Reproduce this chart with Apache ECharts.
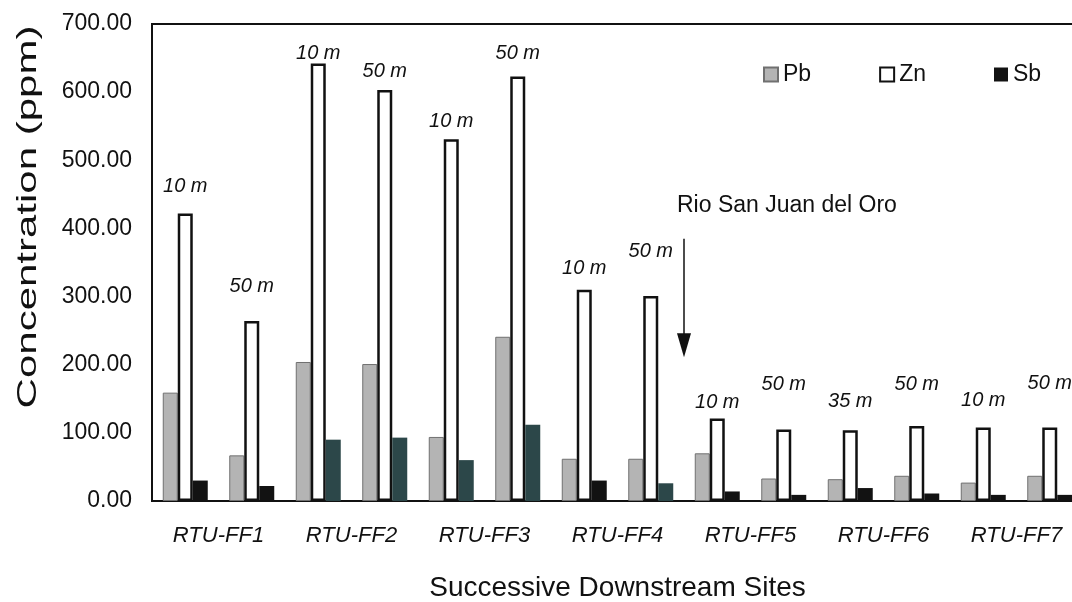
<!DOCTYPE html>
<html><head><meta charset="utf-8">
<script src="https://cdn.jsdelivr.net/npm/echarts@6/dist/echarts.min.js"></script>
<style>html,body{margin:0;padding:0;background:#fff}#c{width:1072px;height:602px}</style>
</head><body><div id="c"></div>
<script>
// ---- data ----
const sites = ['RTU-FF1','RTU-FF2','RTU-FF3','RTU-FF4','RTU-FF5','RTU-FF6','RTU-FF7'];
const samples = ['RTU-FF1 10 m','RTU-FF1 50 m','RTU-FF2 10 m','RTU-FF2 50 m','RTU-FF3 10 m','RTU-FF3 50 m',
  'RTU-FF4 10 m','RTU-FF4 50 m','RTU-FF5 10 m','RTU-FF5 50 m','RTU-FF6 35 m','RTU-FF6 50 m','RTU-FF7 10 m','RTU-FF7 50 m'];
const distances = ['10 m','50 m','10 m','50 m','10 m','50 m','10 m','50 m','10 m','50 m','35 m','50 m','10 m','50 m'];
const pb = [159, 67, 204, 201, 94, 241, 62, 62, 70, 33, 32, 37, 27, 37];
const zn = [422, 264, 642, 603, 531, 623, 310, 301, 121, 105, 104, 110, 108, 108];
const sb = [30, 22, 90, 93, 60, 112, 30, 26, 14, 9, 19, 11, 9, 9];
const yMin = 0, yMax = 700, yStep = 100;
const annotation = 'Rio San Juan del Oro';

// ---- style ----
const FONT = 'Liberation Sans';
const labelLift = [17, 25, 0, 9, 8, 13, 11, 34, 6, 35, 19, 32, 17, 34];
const sbTeal = [2, 3, 4, 5, 7];

const chart = echarts.init(document.getElementById('c'), null, {renderer: 'canvas'});

const znData = zn.map((v, i) => ({value: v, label: {distance: labelLift[i]}}));
const sbData = sb.map((v, i) => sbTeal.includes(i) ? {value: v, itemStyle: {color: '#2c4749'}} : v);

chart.setOption({
  animation: false,
  backgroundColor: '#fff',
  grid: {left: 152, width: 931, top: 24, height: 477, outerBoundsMode: 'none', containLabel: false,
    show: true, borderColor: '#111', borderWidth: 2, backgroundColor: 'transparent'},
  legend: {
    data: ['Pb', 'Zn', 'Sb'], left: 758, top: 58, itemWidth: 14, itemHeight: 14, itemGap: 68, icon: 'rect',
    textStyle: {fontFamily: FONT, fontSize: 23, color: '#111'}
  },
  xAxis: [{
    type: 'category', data: samples, position: 'bottom',
    axisLine: {lineStyle: {color: '#111', width: 2}}, axisTick: {show: false}, axisLabel: {show: false},
    name: 'Successive Downstream Sites', nameLocation: 'middle', nameGap: 73,
    nameTextStyle: {fontFamily: FONT, fontSize: 28, color: '#111'}
  }, {
    type: 'category', data: sites, position: 'bottom', gridIndex: 0,
    axisLine: {show: false}, axisTick: {show: false},
    axisLabel: {fontFamily: FONT, fontSize: 22, fontStyle: 'italic', color: '#111', margin: 24}
  }],
  yAxis: {
    type: 'value', min: yMin, max: yMax, interval: yStep,
    axisLine: {show: true, lineStyle: {color: '#111', width: 2}}, axisTick: {show: false},
    splitLine: {show: false},
    axisLabel: {fontFamily: FONT, fontSize: 23, color: '#111', margin: 20, formatter: v => v.toFixed(2)}
  },
  series: [{
    name: 'Pb', type: 'bar', xAxisIndex: 0, data: pb, barWidth: 15, barGap: '0%',
    itemStyle: {color: '#b4b4b4', borderColor: '#707070', borderWidth: 1}
  }, {
    name: 'Zn', type: 'bar', xAxisIndex: 0, data: znData, barWidth: 15, barGap: '0%',
    itemStyle: {color: '#fff', borderColor: '#111', borderWidth: 2.5},
    label: {show: true, position: 'top', fontFamily: FONT, fontSize: 20, fontStyle: 'italic', color: '#111',
      formatter: p => distances[p.dataIndex]}
  }, {
    name: 'Sb', type: 'bar', xAxisIndex: 0, data: sbData, barWidth: 15, barGap: '0%',
    itemStyle: {color: '#121212'}
  }]
});

// annotation arrow at the boundary between RTU-FF4 and RTU-FF5
const ax = (chart.convertToPixel({xAxisIndex: 0}, samples[7]) + chart.convertToPixel({xAxisIndex: 0}, samples[8])) / 2;
const yTop = chart.convertToPixel({yAxisIndex: 0}, 385);
const yTip = chart.convertToPixel({yAxisIndex: 0}, 211);
const yTxt = chart.convertToPixel({yAxisIndex: 0}, 434);
chart.setOption({
  graphic: [
    {type: 'line', shape: {x1: ax, y1: yTop, x2: ax, y2: yTip - 20}, style: {stroke: '#111', lineWidth: 1.5}},
    {type: 'polygon', shape: {points: [[ax - 7, yTip - 24], [ax + 7, yTip - 24], [ax, yTip]]}, style: {fill: '#111'}},
    {type: 'text', x: ax - 7, y: yTxt, style: {text: annotation, font: '23px "Liberation Sans"', fill: '#111', align: 'left', verticalAlign: 'middle'}},
    {type: 'text', x: 28, y: 217, rotation: Math.PI / 2, scaleX: 1.5,
      style: {text: 'Concentration (ppm)', font: '28px "Liberation Sans"', fill: '#111', align: 'center', verticalAlign: 'middle'}}
  ]
});
</script></body></html>
